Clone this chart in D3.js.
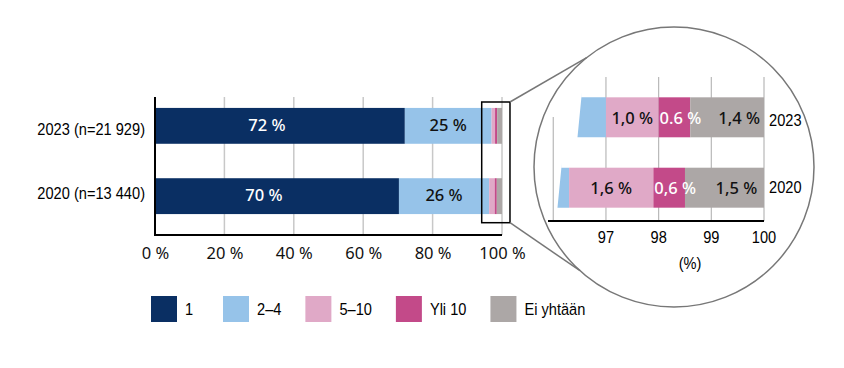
<!DOCTYPE html>
<html>
<head>
<meta charset="utf-8">
<script src="https://cdn.jsdelivr.net/npm/d3@7"></script>
<style>
  body { margin: 0; background: #fff; }
  svg { display: block; }
</style>
</head>
<body>
<div id="vis-container"></div>
<script>
/* data */
const years = ["2023", "2020"];
const yearLabels = ["2023 (n=21 929)", "2020 (n=13 440)"];
const groups = ["1", "2–4", "5–10", "Yli 10", "Ei yhtään"];
const colors = ["#0a2f63", "#96c3e9", "#e0a9c7", "#c34a89", "#aca7a6"];
const values2023 = [72.0, 25.0, 1.0, 0.6, 1.4];
const values2020 = [70.3, 26.0, 1.6, 0.6, 1.5];
const labels2023 = ["72 %", "25 %", "1,0 %", "0.6 %", "1,4 %"];
const labels2020 = ["70 %", "26 %", "1,6 %", "0,6 %", "1,5 %"];
const mainTicks = [0, 20, 40, 60, 80, 100];
const zoomTicks = [97, 98, 99, 100];
const zoomCut = [96.46, 96.08]; // where the cut 2–4 bar starts inside the zoom

// condensed look: Liberation Sans squeezed horizontally
const narrow = "'Liberation Sans', Arial, sans-serif";
const squeeze = 0.86;
const wide = "'Noto Sans', 'Open Sans', sans-serif";

const width = 844, height = 368;

// stacked segments per year
const rows = years.map((yr, r) => {
	let vals = r === 0 ? values2023 : values2020;
	let labs = r === 0 ? labels2023 : labels2020;
	let acc = 0;
	return vals.map((v, i) => {
		let d = {year: yr, row: r, i: i, x0: acc, x1: acc + v, label: labs[i], color: colors[i]};
		acc += v;
		return d;
	});
});
const segs = rows.flat();

// put narrow text at (px,py)
const narrowAt = (sel, px, py) => sel
	.attr("transform", (d, i) => `translate(${typeof px === "function" ? px(d, i) : px},${typeof py === "function" ? py(d, i) : py}) scale(${squeeze},1)`)
	.attr("font-family", narrow)
	.attr("font-size", 17)
	.attr("fill", "#000");

const svg = d3.select('#vis-container')
	.append('svg')
	.attr('width', width)
	.attr('height', height);

/* main chart */
let x = d3.scaleLinear().domain([0, 100]).range([155, 502]);
let y = d3.scaleBand().domain(years).range([90, 232]).paddingInner(0.49).paddingOuter(0.255);
const gridTop = 97, axisY = 235;

svg.append("g").selectAll("line")
	.data(mainTicks.filter(t => t > 0))
	.join("line")
	.attr("x1", d => x(d)).attr("x2", d => x(d))
	.attr("y1", gridTop).attr("y2", axisY)
	.attr("stroke", "#c8c8c8").attr("stroke-width", 1.5);

svg.append("g").selectAll("rect")
	.data(segs)
	.join("rect")
	.attr("x", d => x(d.x0))
	.attr("y", d => y(d.year))
	.attr("width", d => x(d.x1) - x(d.x0))
	.attr("height", y.bandwidth())
	.attr("fill", d => d.color);

svg.append("g").selectAll("text")
	.data(segs.filter(d => d.i < 2))
	.join("text")
	.attr("x", d => x((d.x0 + d.x1) / 2) - (d.i === 0 ? 13 : 0))
	.attr("y", d => y(d.year) + y.bandwidth() / 2 + 5)
	.attr("text-anchor", "middle")
	.attr("font-family", wide)
	.attr("font-size", 16.5)
	.attr("font-weight", 500)
	.attr("fill", d => d.i === 0 ? "#fff" : "#111")
	.text(d => d.label);

// axes
svg.append("line")
	.attr("x1", x(0)).attr("x2", x(100))
	.attr("y1", axisY).attr("y2", axisY)
	.attr("stroke", "#000").attr("stroke-width", 2);
svg.append("line")
	.attr("x1", x(0)).attr("x2", x(0))
	.attr("y1", gridTop).attr("y2", axisY + 1)
	.attr("stroke", "#000").attr("stroke-width", 2);

let xAxis = svg.append("g")
	.attr("transform", "translate(0," + axisY + ")")
	.call(d3.axisBottom(x).tickValues(mainTicks).tickSize(0).tickPadding(12).tickFormat(d => d + " %"));
xAxis.select(".domain").remove();
xAxis.selectAll("text")
	.attr("font-family", wide)
	.attr("font-size", 16.5)
	.attr("fill", "#111");

narrowAt(svg.append("g").selectAll("text")
	.data(years)
	.join("text")
	.attr("text-anchor", "end")
	.text((d, i) => yearLabels[i]),
	145, (d, i) => y(d) + y.bandwidth() / 2 + (i === 0 ? 9 : 3));

// zoom frame on the main chart
svg.append("rect")
	.attr("x", x(94.15)).attr("y", 102)
	.attr("width", x(102.3) - x(94.15)).attr("height", 120.7)
	.attr("fill", "none").attr("stroke", "#000").attr("stroke-width", 1.5);

/* magnifier */
const cx = 674, cy = 167, r = 140;
const onCircle = deg => [cx + r * Math.cos(deg * Math.PI / 180), cy + r * Math.sin(deg * Math.PI / 180)];
let pTop = onCircle(231.4), pBot = onCircle(132.2);
svg.append("line")
	.attr("x1", x(102.3)).attr("y1", 102).attr("x2", pTop[0]).attr("y2", pTop[1])
	.attr("stroke", "#777").attr("stroke-width", 1.5);
svg.append("line")
	.attr("x1", x(102.3)).attr("y1", 222.7).attr("x2", pBot[0]).attr("y2", pBot[1])
	.attr("stroke", "#777").attr("stroke-width", 1.5);
svg.append("circle")
	.attr("cx", cx).attr("cy", cy).attr("r", r)
	.attr("fill", "none").attr("stroke", "#777").attr("stroke-width", 1.5);

let zx = d3.scaleLinear().domain([95.9, 100]).range([548, 764]);
let zy = d3.scaleBand().domain(years).range([80, 225]).paddingInner(0.432).paddingOuter(0.246);
const zGridTop = 77, zAxisY = 221;

let zg = svg.append("g");
zg.selectAll("line.grid")
	.data(zoomTicks)
	.join("line")
	.attr("class", "grid")
	.attr("x1", d => zx(d)).attr("x2", d => zx(d))
	.attr("y1", zGridTop).attr("y2", zAxisY)
	.attr("stroke", "#b8b8b8").attr("stroke-width", 1.2);
zg.append("line")
	.attr("x1", zx(96)).attr("x2", zx(96))
	.attr("y1", 117).attr("y2", zAxisY)
	.attr("stroke", "#b8b8b8").attr("stroke-width", 1.2);

// 2–4 bars, cut with a slanted edge
zg.selectAll("path.cut")
	.data(segs.filter(d => d.i === 1))
	.join("path")
	.attr("class", "cut")
	.attr("d", d => {
		let xs = zx(zoomCut[d.row]), xe = zx(d.x1);
		let t = zy(d.year), b = t + zy.bandwidth();
		return `M${xs + 4.4},${t - 5}L${xs + 3.8},${t}L${xe},${t}L${xe},${b}L${xs},${b}L${xs - 0.4},${b + 4}Z`;
	})
	.attr("fill", d => d.color);

zg.selectAll("rect")
	.data(segs.filter(d => d.i >= 2))
	.join("rect")
	.attr("x", d => zx(d.x0))
	.attr("y", d => zy(d.year))
	.attr("width", d => zx(d.x1) - zx(d.x0))
	.attr("height", zy.bandwidth())
	.attr("fill", d => d.color);

zg.selectAll("text.val")
	.data(segs.filter(d => d.i >= 2))
	.join("text")
	.attr("class", "val")
	.attr("x", d => zx((d.x0 + d.x1) / 2) + (d.i === 3 ? 6 : d.i === 4 ? 12 : 0))
	.attr("y", d => zy(d.year) + zy.bandwidth() / 2 + 6.5)
	.attr("text-anchor", "middle")
	.attr("font-family", wide)
	.attr("font-size", 16.5)
	.attr("font-weight", 500)
	.attr("fill", d => d.i === 3 ? "#fff" : "#111")
	.text(d => d.label);

zg.append("line")
	.attr("x1", zx(95.9)).attr("x2", zx(100))
	.attr("y1", zAxisY).attr("y2", zAxisY)
	.attr("stroke", "#000").attr("stroke-width", 2);

narrowAt(zg.selectAll("text.tick")
	.data(zoomTicks)
	.join("text")
	.attr("class", "tick")
	.attr("text-anchor", "middle")
	.text(d => d),
	d => zx(d), 243.3);

narrowAt(zg.append("text")
	.attr("text-anchor", "middle")
	.text("(%)"),
	690, 269);

narrowAt(zg.selectAll("text.year")
	.data(years)
	.join("text")
	.attr("class", "year")
	.text(d => d),
	zx(100) + 5, (d, i) => zy(d) + zy.bandwidth() / 2 + (i === 0 ? 9 : 5));

/* legend */
let legend = svg.append("g").attr("transform", "translate(151,296)");
let lx = 0;
groups.forEach((g, i) => {
	let item = legend.append("g").attr("transform", `translate(${lx},0)`);
	item.append("rect")
		.attr("width", 26).attr("height", 26)
		.attr("fill", colors[i]);
	let t = narrowAt(item.append("text").text(g), 34, 19);
	lx += 34 + Math.max(t.node().getComputedTextLength() * squeeze, 14) + 24;
});
</script>
</body>
</html>
